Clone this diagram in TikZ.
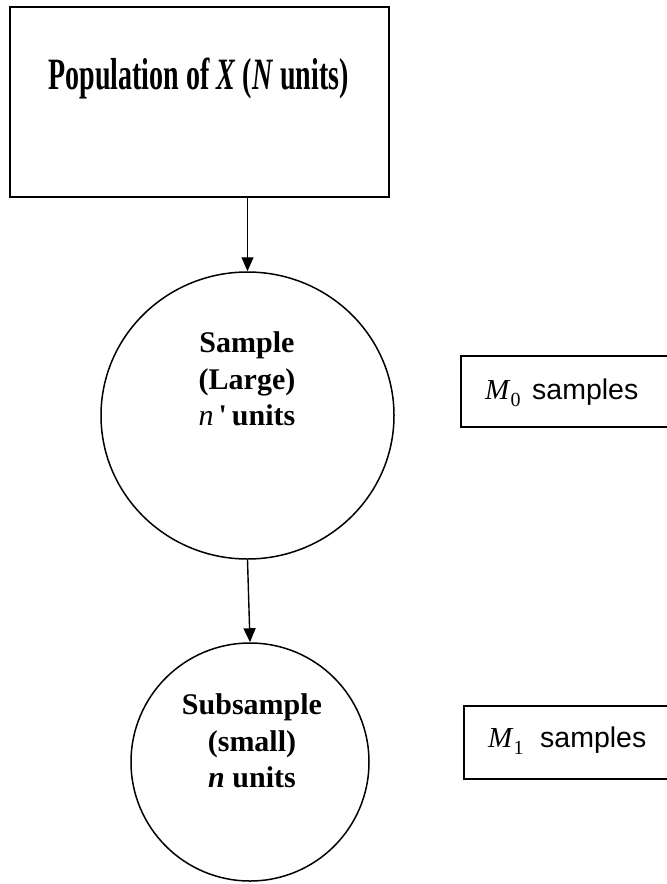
\documentclass[tikz,border=0pt]{standalone}
\usepackage{fontspec}
\setmainfont{Liberation Serif}
\newfontfamily\sansf{Liberation Sans}
\usetikzlibrary{arrows.meta,shapes.geometric}
\begin{document}
\begin{tikzpicture}[x=1pt,y=-1pt,
  boxline/.style={draw, line width=1.6pt, rectangle, inner sep=0pt, anchor=north west},
  ring/.style={draw, ellipse, line width=1.5pt, inner sep=0pt},
  conn/.style={line width=1.4pt, -{Triangle[length=14pt,width=12pt]}},
  bigtext/.style={anchor=base, inner sep=0pt, font=\fontsize{28}{34}\selectfont\bfseries},
  circtext/.style={align=center, font=\fontsize{30}{36.5}\selectfont\bfseries},
  mtext/.style={anchor=base west, inner sep=0pt, font=\fontsize{29}{29}\selectfont},
  stext/.style={anchor=base west, inner sep=0pt, font=\fontsize{28.5}{28.5}\selectfont\sansf}]
\useasboundingbox (0,0) rectangle (667,884);
% population box
\node[boxline, minimum width=379pt, minimum height=190pt] (pop) at (9,6) {};
\node[bigtext] (popt) at (198.5,89) {\scalebox{1}[1.6]{Population of \textit{X} (\textit{N} units)}};
% sample circle
\node[ring, minimum width=293pt, minimum height=287pt] (s1) at (247.5,415.5) {};
\node[circtext] (s1t) at (247,379) {Sample\\(Large)\\\textnormal{\textit{n}}\,\textquotesingle\,units};
% subsample circle
\node[ring, minimum width=238pt, minimum height=238pt] (s2) at (250,762) {};
\node[circtext] (s2t) at (252,741) {Subsample\\(small)\\\textit{n} units};
% connectors
\draw[conn] (pop.south -| s1.north) -- (s1.north);
\draw[conn] (s1.south) -- (s2.north);
% M0 box
\node[boxline, minimum width=220pt, minimum height=71pt] (m0) at (460,355) {};
\node[mtext] (m0m) at (485,399) {\textit{M}\raisebox{-7pt}{\fontsize{20}{20}\selectfont 0}};
\node[stext] (m0s) at (532,399) {samples};
% M1 box
\node[boxline, minimum width=220pt, minimum height=73pt] (m1) at (463,705) {};
\node[mtext] (m1m) at (488,747) {\textit{M}\raisebox{-7pt}{\fontsize{20}{20}\selectfont 1}};
\node[stext] (m1s) at (540,747) {samples};
\end{tikzpicture}
\end{document}
